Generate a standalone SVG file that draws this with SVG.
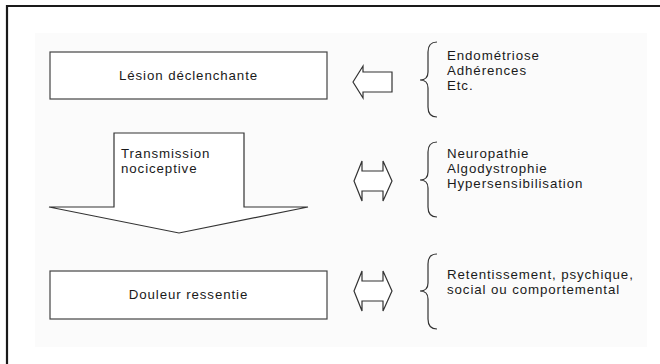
<svg xmlns="http://www.w3.org/2000/svg" width="660" height="364" viewBox="0 0 660 364">
<style>
text{font-family:"Liberation Sans",Arial,sans-serif;font-size:13.3px;letter-spacing:0.9px;fill:#1a1a1a}
.box{fill:#fff;stroke:#444;stroke-width:1.2}
.arr{fill:#fff;stroke:#333;stroke-width:1.2;stroke-linejoin:miter}
.brace{fill:none;stroke:#333;stroke-width:1.2}
</style>
<rect x="0" y="0" width="660" height="364" fill="#fff"/>
<rect x="35" y="33" width="612" height="314" fill="#fbfbfb"/>
<path d="M7,364 V6 H660" fill="none" stroke="#1a1a1a" stroke-width="2.2"/>
<g id="lesion">
<rect class="box" x="50" y="52" width="277" height="47"/>
<text x="188.5" y="80" text-anchor="middle">Lésion déclenchante</text>
</g>
<g id="transmission">
<polygon class="arr" points="114,133 244,133 244,207 308,207 179,233 49,207 114,207"/>
<text x="121" y="158">Transmission</text>
<text x="121" y="173">nociceptive</text>
</g>
<g id="douleur">
<rect class="box" x="50" y="271" width="277" height="48"/>
<text x="188.5" y="299" text-anchor="middle">Douleur ressentie</text>
</g>
<g id="connectors">
<polygon class="arr" points="353,82 363,66 363,72 392,72 392,92 363,92 363,98"/>
<polygon class="arr" points="354,181 362,161 362,171 383,171 383,161 392,181 383,201 383,191 362,191 362,201"/>
<polygon class="arr" points="354,291 362,271 362,281 383,281 383,271 392,291 383,311 383,301 362,301 362,311"/>
</g>
<g id="causes">
<path class="brace" d="M437,42 Q428,42 428,52 L428,72 Q428,80 420,80 Q428,80 428,88 L428,107 Q428,117 437,117"/>
<text x="447" y="60">Endométriose</text>
<text x="447" y="75">Adhérences</text>
<text x="447" y="90">Etc.</text>
</g>
<g id="mecanismes">
<path class="brace" d="M437,142 Q428,142 428,152 L428,172 Q428,180 420,180 Q428,180 428,188 L428,207 Q428,217 437,217"/>
<text x="447" y="158">Neuropathie</text>
<text x="447" y="173">Algodystrophie</text>
<text x="447" y="188">Hypersensibilisation</text>
</g>
<g id="retentissement">
<path class="brace" d="M437,254 Q428,254 428,264 L428,283 Q428,291 420,291 Q428,291 428,299 L428,319 Q428,329 437,329"/>
<text x="447" y="279">Retentissement, psychique,</text>
<text x="447" y="294">social ou comportemental</text>
</g>
</svg>
